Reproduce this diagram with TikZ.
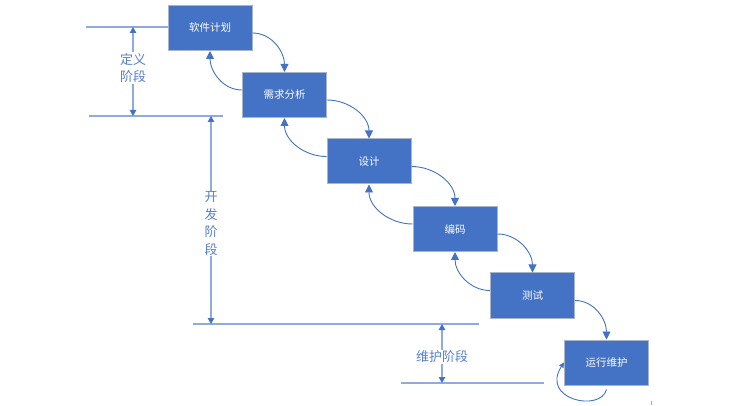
\documentclass[tikz,border=0pt]{standalone}
\usepackage{fontspec}
\setmainfont{Noto Sans CJK SC}
\usetikzlibrary{arrows.meta,calc}
\definecolor{boxblue}{HTML}{4472C4}
\definecolor{boxedge}{HTML}{A8B4C8}
\definecolor{lineblue}{HTML}{8FAADC}
\definecolor{labelblue}{HTML}{5580CC}
\begin{document}
\begin{tikzpicture}[x=1pt,y=1pt,
 stage/.style={draw=boxedge,line width=1pt,fill=boxblue,minimum width=84pt,minimum height=45pt,inner sep=0pt,text=white,font=\fontsize{10.5}{12}\selectfont},
 conn/.style={draw=boxblue,line width=0.9pt,-{Triangle[length=8pt,width=8pt]}},
 loopconn/.style={draw=boxblue,line width=0.9pt,-{Triangle[length=5pt,width=5pt]}},
 phase/.style={draw=lineblue,line width=1.2pt},
 dim/.style={draw=lineblue,line width=1.2pt,{Triangle[length=6pt,width=6.5pt,color=boxblue]}-{Triangle[length=6pt,width=6.5pt,color=boxblue]}},
 dimlabel/.style={fill=white,text=labelblue,inner sep=1pt,align=center,font=\fontsize{13}{17.5}\selectfont}]
\useasboundingbox (0,0) rectangle (750,-406);

% phase boundary lines
\coordinate (l1a) at (86,-27);
\coordinate (l2a) at (89,-116);
\coordinate (l2b) at (223,-116);
\coordinate (l3a) at (193,-324);
\coordinate (l3b) at (479,-324);
\coordinate (l4a) at (401,-383);
\coordinate (l4b) at (544,-383);

% stages
\node[stage] (b1) at (210,-28) {软件计划};
\node[stage] (b2) at (284.5,-95) {需求分析};
\node[stage] (b3) at (369,-161.5) {设计};
\node[stage] (b4) at (455,-229) {编码};
\node[stage] (b5) at (532.5,-295.5) {测试};
\node[stage] (b6) at (606.5,-362.5) {运行维护};

\draw[phase] (l1a) -- (b1.west |- l1a);
\draw[phase] (l2a) -- (l2b);
\draw[phase] (l3a) -- (l3b);
\draw[phase] (l4a) -- (l4b);

% forward connectors
\foreach \a/\b in {b1/b2,b2/b3,b3/b4,b4/b5,b5/b6}
  \draw[conn] ($(\a.east)+(0,-5)$) to[out=0,in=90] (\b.north);
% backward connectors
\foreach \a/\b in {b2/b1,b3/b2,b4/b3,b5/b4}
  \draw[conn] ($(\a.west)+(0,5)$) to[out=180,in=-90] (\b.south);
% loop
\draw[loopconn] ($(b6.south)+(0,-4)$) .. controls +(-6,-23) and +(-24,-37) .. (b6.west);

% dimension arrows
\coordinate (d1t) at (133,-27);
\coordinate (d1b) at (133,-116);
\coordinate (d2t) at (211,-116);
\coordinate (d2b) at (211,-324);
\coordinate (d3t) at (442,-324);
\coordinate (d3b) at (442,-383);
\draw[dim] (d1t) -- (d1b);
\draw[dim] (d2t) -- (d2b);
\draw[dim] (d3t) -- (d3b);
\node[dimlabel] (t1) at (133,-68) {定义\\阶段};
\node[dimlabel] (t2) at (211,-223.5) {开\\发\\阶\\段};
\node[dimlabel] (t3) at (442,-357) {维护阶段};

% small tick mark
\draw[gray!70,line width=0.5pt] (651,-401) -- (651,-405);
\end{tikzpicture}
\end{document}
